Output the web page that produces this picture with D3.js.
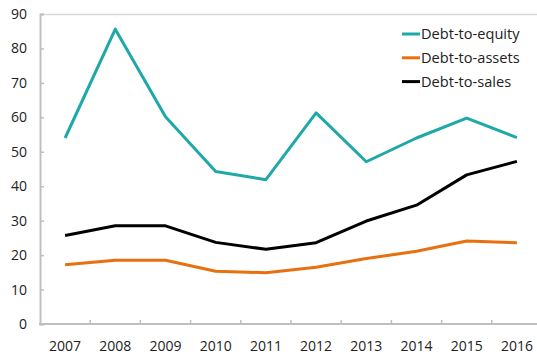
<!DOCTYPE html>
<html><head><meta charset="utf-8">
<script src="https://cdn.jsdelivr.net/npm/d3@7"></script>
<style>
html,body{margin:0;padding:0;background:#fff;}
svg{display:block;font-family:"Open Sans",sans-serif;}
</style></head>
<body>
<svg id="c" width="537" height="358"></svg>
<script>
const years = ["2007","2008","2009","2010","2011","2012","2013","2014","2015","2016"];
const debtToEquity = [54.0, 85.6, 60.2, 44.3, 41.9, 61.3, 47.1, 54.0, 59.8, 54.1];
const debtToAssets = [17.2, 18.5, 18.5, 15.3, 14.9, 16.5, 19.0, 21.1, 24.1, 23.6];
const debtToSales  = [25.7, 28.5, 28.5, 23.7, 21.7, 23.6, 29.9, 34.5, 43.3, 47.2];
const yTicks = [0,10,20,30,40,50,60,70,80,90];
const seriesNames = ["Debt-to-equity","Debt-to-assets","Debt-to-sales"];
const seriesColors = ["#1fa8a8","#e8700f","#000000"];

const svg = d3.select("#c");
const L = 40, R = 542, T = 14, B = 324;
const x = d3.scaleBand().domain(years).range([L, R]);
const y = d3.scaleLinear().domain([0, 90]).range([B, T]);
const axisColor = "#bfbfbf";

// top frame line
svg.append("line").attr("x1", L).attr("x2", 537).attr("y1", y(90)+0.5).attr("y2", y(90)+0.5)
  .attr("stroke", "#d9d9d9").attr("stroke-width", 1.5);

// y axis
const ya = svg.append("g").attr("transform", `translate(${L},0)`)
  .call(d3.axisLeft(y).tickValues(yTicks).tickSize(-4).tickPadding(13).tickFormat(d3.format("d")));
ya.select(".domain").attr("stroke", axisColor).attr("stroke-width", 2);
ya.selectAll(".tick line").attr("stroke", axisColor).attr("stroke-width", 1.5);
ya.selectAll("text").attr("font-size", 14).attr("fill", "#222").attr("font-family", "Open Sans");

// x axis
const xa = svg.append("g").attr("transform", `translate(0,${B})`)
  .call(d3.axisBottom(x).tickSize(0).tickPadding(17));
xa.select(".domain").remove();
svg.append("line").attr("x1", L-1).attr("x2", 537).attr("y1", B).attr("y2", B)
  .attr("stroke", axisColor).attr("stroke-width", 2);
const bounds = years.slice(1).map(yr => x(yr));
svg.selectAll(".xt").data(bounds).enter().append("line")
  .attr("x1", d => d).attr("x2", d => d).attr("y1", B).attr("y2", B-4)
  .attr("stroke", axisColor).attr("stroke-width", 1.5);
xa.selectAll("text").attr("font-size", 14).attr("fill", "#222").attr("font-family", "Open Sans");

const line = d3.line().x((d, i) => x(years[i]) + x.bandwidth()/2).y(d => y(d));
[debtToEquity, debtToAssets, debtToSales].forEach((s, i) => {
  svg.append("path").datum(s).attr("d", line).attr("fill", "none")
    .attr("stroke", seriesColors[i]).attr("stroke-width", 3).attr("stroke-linejoin", "round");
});

// legend
const lg = svg.append("g");
seriesNames.forEach((n, i) => {
  const ly = 34 + i * 23.8;
  lg.append("line").attr("x1", 402).attr("x2", 420).attr("y1", ly).attr("y2", ly)
    .attr("stroke", seriesColors[i]).attr("stroke-width", 3);
  lg.append("text").attr("x", 421).attr("y", ly).attr("dy", "0.35em")
    .attr("font-size", 14.6).attr("fill", "#222").text(n);
});
</script>
</body></html>
